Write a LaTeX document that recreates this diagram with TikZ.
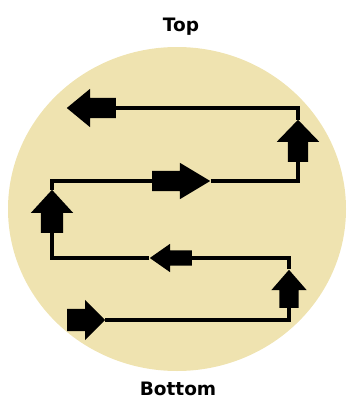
\documentclass[tikz,border=0pt]{standalone}
\usepackage{fontspec}
\setmainfont{DejaVu Sans}
\usepackage{tikz}
\usetikzlibrary{shapes.arrows, shapes.geometric, positioning}
\definecolor{DiscBeige}{HTML}{EFE3B0}

\tikzset{
  flowline/.style={line width=3.2pt, line join=miter},
  blockarrow/.style={single arrow, fill=black, draw=none, inner xsep=0pt,
    minimum height=#1, anchor=tail},
  label/.style={font=\fontsize{18.5}{22}\selectfont\bfseries}
}

\begin{document}
\begin{tikzpicture}[x=1pt, y=-1pt]
  \useasboundingbox (0,0) rectangle (350,399);
  % the disc
  \fill[DiscBeige] (177,209) ellipse [x radius=169pt, y radius=162pt];

  \node[label] (top) at (181,27) {Top};
  \node[label] (bottom) at (178,389) {Bottom};

  % block arrows along the path, from bottom to top (placed by their tails)
  \node[blockarrow=38pt, inner ysep=11pt, single arrow head extend=9pt,
        single arrow tip angle=90] (a1) at (67,320) {};
  \node[blockarrow=38pt, inner ysep=9.5pt, single arrow head extend=8pt,
        single arrow tip angle=82, rotate=90] (a2) at (289,308) {};
  \node[blockarrow=42pt, inner ysep=7.5pt, single arrow head extend=6.5pt,
        single arrow tip angle=70, rotate=180] (a3) at (192,258) {};
  \node[blockarrow=43pt, inner ysep=11pt, single arrow head extend=10pt,
        single arrow tip angle=85, rotate=90] (a4) at (52,233) {};
  \node[blockarrow=58pt, inner ysep=10pt, single arrow head extend=8pt,
        single arrow tip angle=62] (a5) at (152,181) {};
  \node[blockarrow=42pt, inner ysep=10pt, single arrow head extend=11pt,
        single arrow tip angle=88, rotate=90] (a6) at (298,162) {};
  \node[blockarrow=49pt, inner ysep=10pt, single arrow head extend=9pt,
        single arrow tip angle=79, rotate=180] (a7) at (116,108) {};

  % the zigzag line joining them
  \draw[flowline] (a1.tip) -| (a2.tail);
  \draw[flowline] (a2.tip) |- (a3.tail);
  \draw[flowline] (a3.tip) -| (a4.tail);
  \draw[flowline] (a4.tip) |- (a5.tail);
  \draw[flowline] (a5.tip) -| (a6.tail);
  \draw[flowline] (a6.tip) |- (a7.tail);
\end{tikzpicture}
\end{document}
